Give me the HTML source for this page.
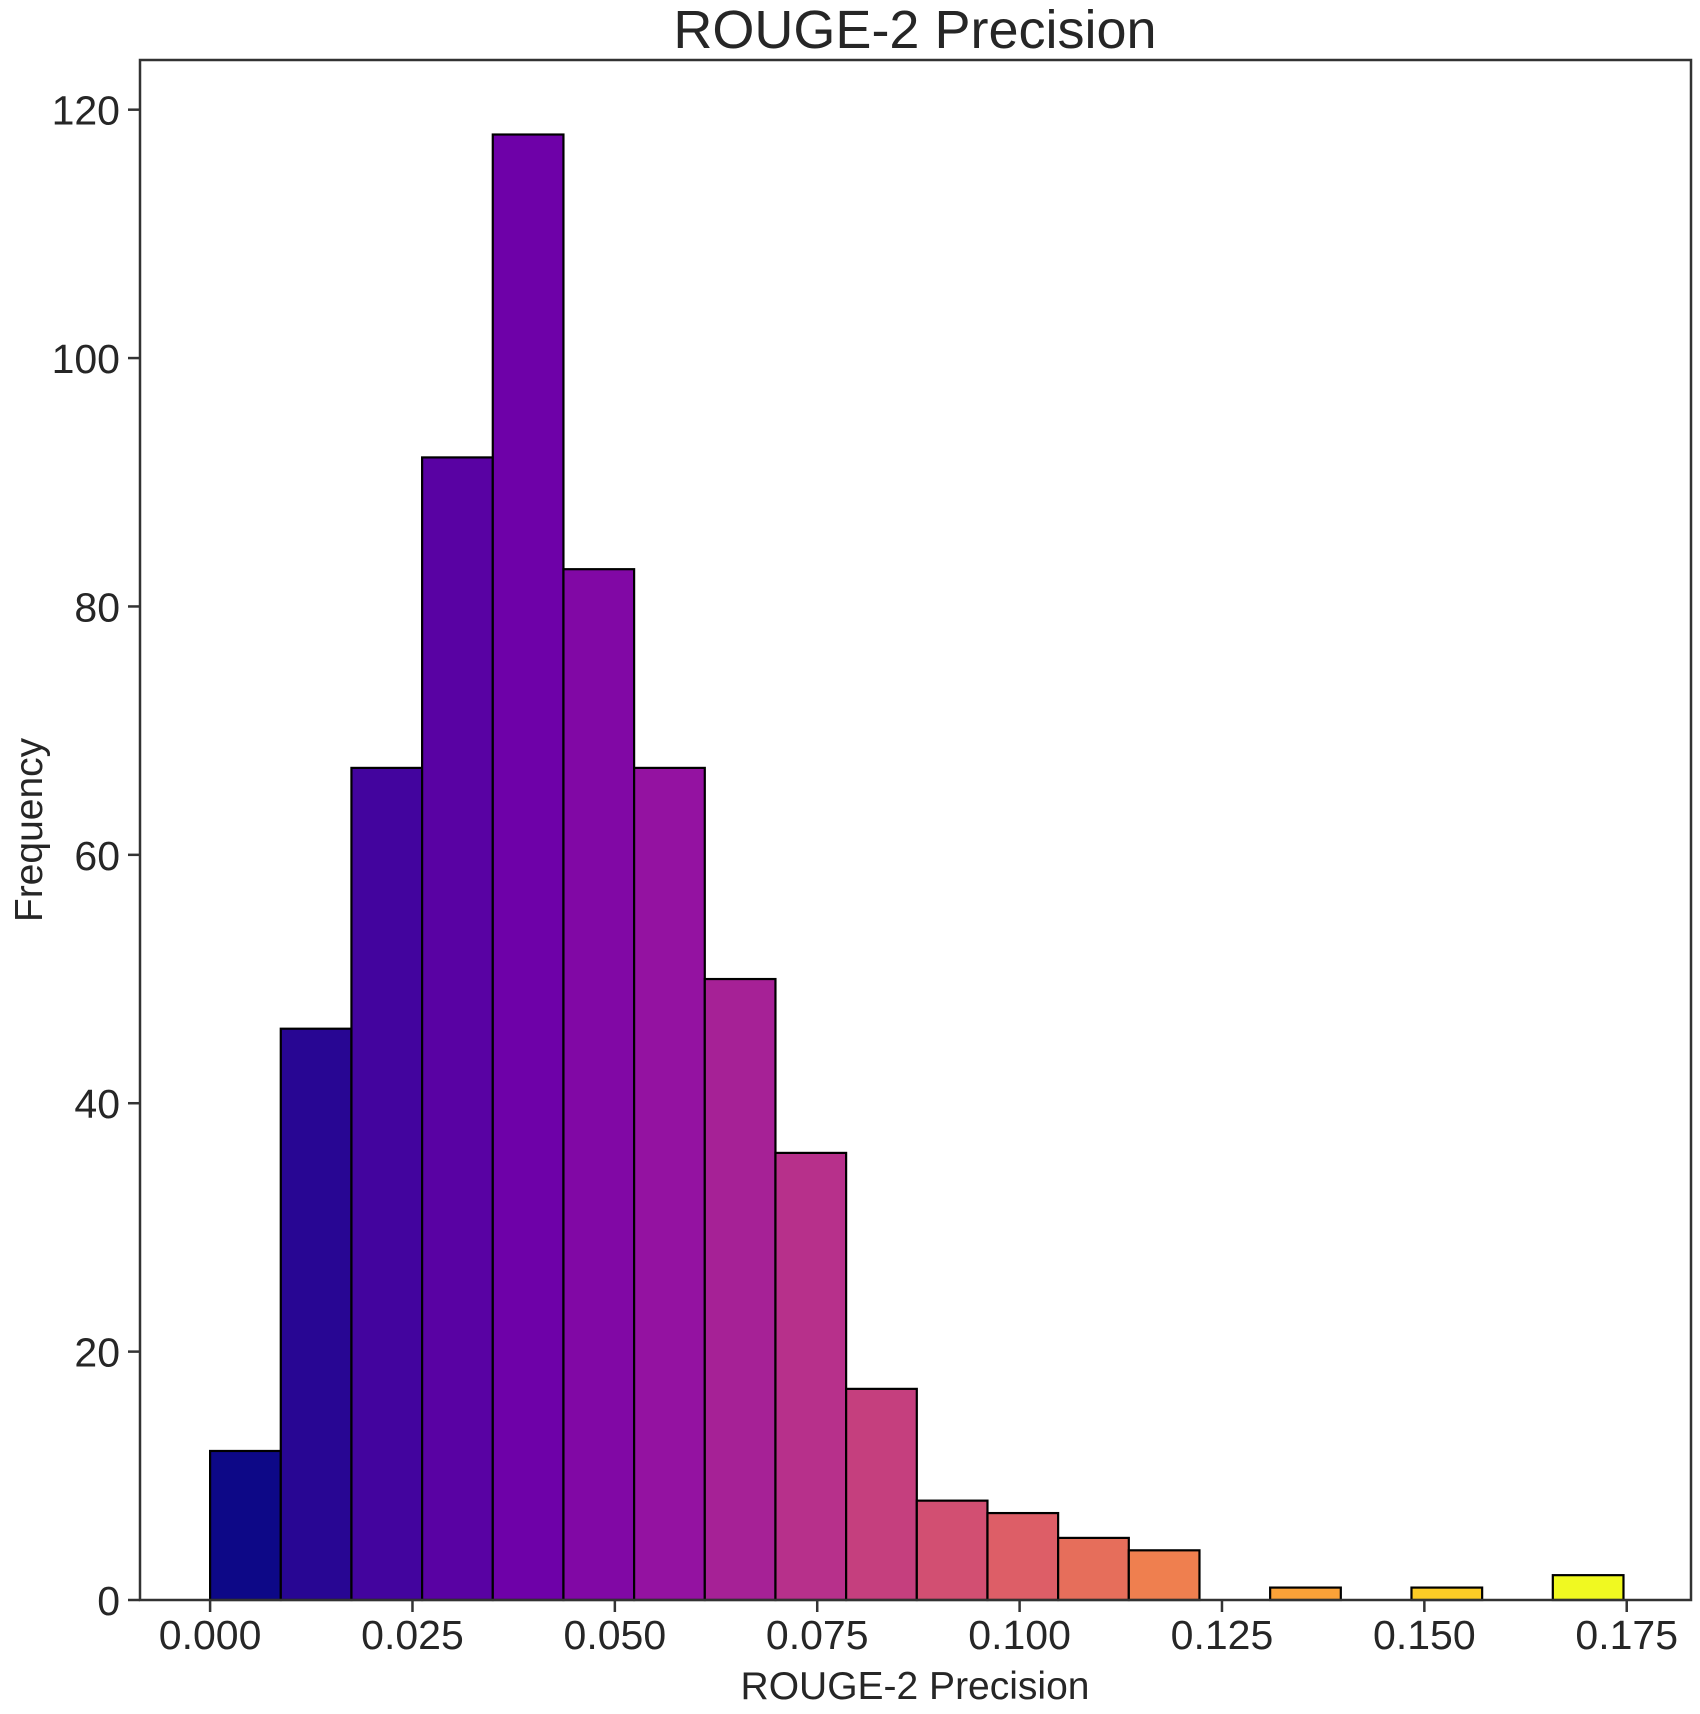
<!DOCTYPE html>
<html><head><meta charset="utf-8"><style>
body{margin:0;background:#fff}
svg text{font-family:"Liberation Sans",Arial,sans-serif;fill:#262626}
</style></head><body>
<svg id="chart" width="1700" height="1709" xmlns="http://www.w3.org/2000/svg">
<rect width="1700" height="1709" fill="#fff"/>
<g id="bars"></g>
<g id="axes"></g>
<text x="915" y="48" font-size="54" text-anchor="middle">ROUGE-2 Precision</text>
<text x="915" y="1699" font-size="39" text-anchor="middle">ROUGE-2 Precision</text>
<text x="0" y="0" font-size="39" text-anchor="middle" transform="translate(42,830) rotate(-90)">Frequency</text>
</svg>
<script>
const counts=[12,46,67,92,118,83,67,50,36,17,8,7,5,4,0,1,0,1,0,2];
const binStart=0.0;
const binEnd=0.1746;
const xTicks=[0,0.025,0.05,0.075,0.1,0.125,0.15,0.175];
const xTickLabels=["0.000","0.025","0.050","0.075","0.100","0.125","0.150","0.175"];
const yTicks=[0,20,40,60,80,100,120];
const L=140,R=1691,T=60,B=1600;
const xmin=-0.00866,xmax=0.18294,ymax=124;
const X=v=>L+(v-xmin)/(xmax-xmin)*(R-L);
const Y=v=>B-v/ymax*(B-T);
const stops=["#0d0887","#41049d","#6a00a8","#8f0da4","#b12a90","#cc4778","#e16462","#f2844b","#fca636","#fcce25","#f0f921"];
function hex(h){return [1,3,5].map(i=>parseInt(h.substr(i,2),16));}
function plasma(t){const p=t*10,i=Math.min(9,Math.floor(p)),f=p-i;const a=hex(stops[i]),b=hex(stops[i+1]);return "rgb("+a.map((c,k)=>Math.round(c+(b[k]-c)*f)).join(",")+")";}
const NS="http://www.w3.org/2000/svg";
const bars=document.getElementById('bars'),axes=document.getElementById('axes');
const w=(binEnd-binStart)/counts.length;
counts.forEach((c,i)=>{
  if(c<=0)return;
  const r=document.createElementNS(NS,'rect');
  const x0=X(binStart+i*w),x1=X(binStart+(i+1)*w);
  r.setAttribute('x',x0);r.setAttribute('y',Y(c));r.setAttribute('width',x1-x0);r.setAttribute('height',Y(0)-Y(c));
  r.setAttribute('fill',plasma(i/(counts.length-1)));r.setAttribute('stroke','#000');r.setAttribute('stroke-width','2.2');
  
  
  bars.appendChild(r);
});
function el(tag,attrs,parent){const e=document.createElementNS(NS,tag);for(const k in attrs)e.setAttribute(k,attrs[k]);parent.appendChild(e);return e;}
const frame=el('rect',{x:L,y:T,width:R-L,height:B-T,fill:'none',stroke:'#333',"stroke-width":2.5},axes);


xTicks.forEach((v,i)=>{
  const x=X(v);
  el('line',{x1:x,x2:x,y1:B,y2:B+12,stroke:'#333',"stroke-width":2.5},axes);
  const t=el('text',{x:x,y:1649,"font-size":41,"text-anchor":"middle"},axes);
  t.textContent=xTickLabels[i];
  
  
});
yTicks.forEach(v=>{
  const y=Y(v);
  el('line',{x1:L-12,x2:L,y1:y,y2:y,stroke:'#333',"stroke-width":2.5},axes);
  const t=el('text',{x:120,y:y+15,"font-size":41,"text-anchor":"end"},axes);
  t.textContent=v;
  
  
});
</script>
</body></html>
